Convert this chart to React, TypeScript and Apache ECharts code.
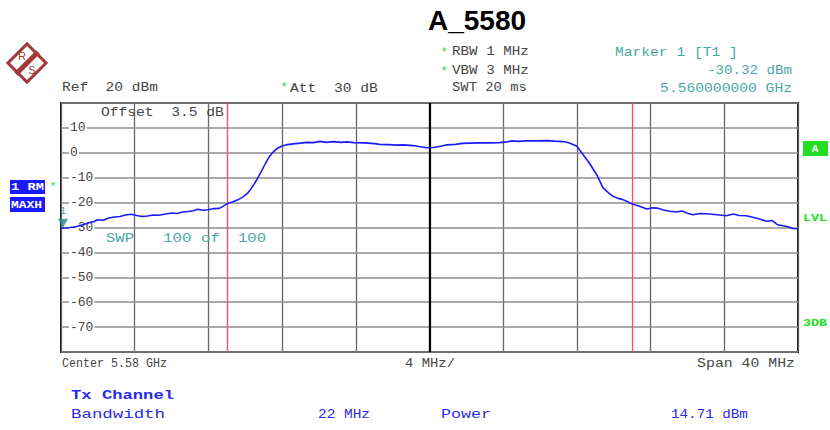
import React, { useEffect, useRef } from "react";
import * as echarts from "echarts";

const freqMHz = [
  5560.0, 5560.4, 5560.8, 5561.2, 5561.5, 5561.8, 5562.0, 5562.3, 5562.6, 5562.9,
  5563.2, 5563.5, 5563.8, 5564.1, 5564.4, 5564.7, 5565.0, 5565.3, 5565.6, 5566.0,
  5566.3, 5566.6, 5566.9, 5567.2, 5567.4, 5567.7, 5568.0, 5568.3, 5568.6, 5568.9,
  5569.1, 5569.3, 5569.6, 5569.9, 5570.1, 5570.3, 5570.5, 5570.7, 5570.9, 5571.1,
  5571.3, 5571.5, 5571.7, 5572.0, 5572.3, 5572.6, 5573.0, 5573.35, 5573.7, 5574.05,
  5574.4, 5574.8, 5575.2, 5575.5, 5575.9, 5576.5, 5577.0, 5577.3, 5577.8, 5578.2,
  5578.6, 5579.1, 5579.5, 5579.85, 5580.2, 5580.6, 5580.95, 5581.4, 5581.8, 5582.2,
  5582.7, 5583.2, 5583.8, 5584.2, 5584.5, 5584.8, 5585.2, 5585.8, 5586.4, 5586.8,
  5587.25, 5587.6, 5588.0, 5588.3, 5588.7, 5589.1, 5589.4, 5589.7, 5589.96, 5590.2,
  5590.5, 5590.8, 5591.0, 5591.4, 5591.8, 5592.1, 5592.35, 5592.7, 5593.05, 5593.4,
  5593.7, 5594.0, 5594.3, 5594.7, 5595.2, 5595.6, 5596.1, 5596.5, 5596.8, 5597.2,
  5597.6, 5597.9, 5598.3, 5598.6, 5598.9, 5599.2, 5599.5, 5599.7, 5600.0,
];
const levelDbm = [
  -30.3, -30.1, -29.7, -28.9, -28.1, -27.6, -26.9, -27.1, -26.2, -25.8,
  -25.6, -25.0, -24.7, -25.2, -25.6, -25.4, -25.0, -25.1, -24.7, -24.2,
  -24.4, -23.8, -23.6, -23.3, -22.7, -23.1, -22.9, -22.4, -22.3, -21.0,
  -20.2, -19.8, -18.9, -17.6, -16.4, -14.6, -12.4, -9.8, -7.1, -4.2,
  -1.6, 0.2, 1.6, 2.7, 3.3, 3.6, 3.9, 4.2, 4.1, 4.6,
  4.2, 4.5, 4.2, 4.4, 4.1, 4.0, 3.7, 3.4, 3.3, 3.1,
  3.2, 2.9, 2.4, 2.0, 2.1, 2.6, 3.2, 3.4, 3.8, 3.9,
  4.0, 4.0, 4.1, 4.4, 4.8, 4.6, 4.8, 4.8, 4.9, 4.7,
  4.5, 3.9, 2.6, -0.4, -4.4, -9.1, -13.9, -16.0, -17.5, -18.2,
  -18.8, -19.8, -20.6, -21.5, -22.6, -22.1, -22.2, -23.0, -23.5, -23.8,
  -23.4, -24.3, -24.9, -24.4, -24.6, -24.9, -25.3, -24.6, -25.2, -25.3,
  -26.0, -26.6, -27.5, -27.2, -28.9, -29.3, -29.8, -30.4, -30.5,
];

const yTicks = [10, 0, -10, -20, -30, -40, -50, -60, -70];
const channelLinesMHz = [5569, 5591];
const centerMHz = 5580;
const marker = { freq: 5560, level: -30.32 };

const MONO = '"Liberation Mono", "DejaVu Sans Mono", monospace';

// text helper; w = desired rendered width (px), stretched horizontally via scaleX
function txt(
  text: string,
  x: number,
  y: number,
  size: number,
  fill: string,
  w: number = 0,
  align: string = "left",
  weight: string = "normal",
  family: string = MONO
) {
  const natural = text.length * 0.6 * size;
  const sx = w > 0 ? w / natural : 1;
  return {
    type: "text",
    x,
    y,
    scaleX: sx,
    z: 100,
    style: {
      text,
      x: 0,
      y: 0,
      fill,
      fontSize: size,
      fontFamily: family,
      fontWeight: weight,
      align,
      textAlign: align,
      verticalAlign: "middle",
      textVerticalAlign: "middle",
    },
  };
}

export default function App() {
  const ref = useRef<HTMLDivElement>(null);

  useEffect(() => {
    if (!ref.current) return;
    const chart = echarts.init(ref.current, undefined, { renderer: "svg" });
    const data = freqMHz.map((f, i) => [f, levelDbm[i]]);

    const gray = "#454545";
    const teal = "#4aa6a6";
    const blue = "#2a2aee";
    const green = "#22dd22";
    const SANS = '"Liberation Sans", Arial, sans-serif';

    const graphic: any[] = [
      txt("A_5580", 477, 20, 28, "#000", 0, "center", "bold", SANS),
      // R&S logo
      {
        type: "rect",
        x: 27,
        y: 63,
        rotation: Math.PI / 4,
        shape: { x: -13.5, y: -13.5, width: 27, height: 27 },
        style: { fill: "#fff", stroke: "#a23a3a", lineWidth: 3 },
        z: 100,
      },
      {
        type: "line",
        shape: { x1: 16, y1: 74, x2: 38, y2: 52 },
        style: { stroke: "#a23a3a", lineWidth: 5 },
        z: 101,
      },
      txt("R", 22, 56, 11, "#a23a3a", 0, "center", "normal", SANS),
      txt("S", 32, 70, 11, "#a23a3a", 0, "center", "normal", SANS),
      // header
      txt("Ref  20 dBm", 62, 88, 13, gray, 96),
      txt("*", 284, 88, 12, green, 0, "center"),
      txt("Att  30 dB", 290, 88, 13, gray, 88),
      txt("*", 444, 53, 12, green, 0, "center"),
      txt("RBW 1 MHz", 452, 52, 13, gray, 77),
      txt("*", 444, 72, 12, green, 0, "center"),
      txt("VBW 3 MHz", 452, 71, 13, gray, 77),
      txt("SWT 20 ms", 452, 88, 13, gray, 75),
      txt("Marker 1 [T1 ]", 615, 52, 13, teal, 123),
      txt("-30.32 dBm", 792, 71, 13, teal, 85, "right"),
      txt("5.560000000 GHz", 792, 88, 13, teal, 132, "right"),
      // in-plot
      txt("Offset  3.5 dB", 101, 112, 13, gray, 123),
      txt("SWP", 106, 238, 13, teal, 28),
      txt("100 of", 163, 238, 13, teal, 57),
      txt("100", 238, 238, 13, teal, 28),
      // left boxes
      {
        type: "rect",
        shape: { x: 10, y: 180, width: 35, height: 14 },
        style: { fill: "#1a1aff" },
        z: 100,
      },
      txt("1 RM", 11, 187, 11, "#fff", 33, "left", "bold"),
      txt("*", 53, 187, 11, green, 0, "center"),
      {
        type: "rect",
        shape: { x: 10, y: 197, width: 35, height: 15 },
        style: { fill: "#1a1aff" },
        z: 100,
      },
      txt("MAXH", 11, 205, 10, "#fff", 31, "left", "bold"),
      // right side labels
      {
        type: "rect",
        shape: { x: 803, y: 141, width: 25, height: 15 },
        style: { fill: green },
        z: 100,
      },
      txt("A", 815, 148.5, 11, "#fff", 0, "center", "bold"),
      txt("LVL", 803, 218, 11, green, 24, "left", "bold"),
      txt("3DB", 803, 323, 11, green, 24, "left", "bold"),
      // bottom
      txt("Center 5.58 GHz", 62, 364, 12, gray, 105),
      txt("4 MHz/", 405, 364, 12, gray, 50),
      txt("Span 40 MHz", 795, 364, 12, gray, 98, "right"),
      txt("Tx Channel", 71, 396, 13, blue, 103, "left", "bold"),
      txt("Bandwidth", 71, 415, 13, blue, 94),
      txt("22 MHz", 318, 415, 13, blue, 52),
      txt("Power", 441, 415, 13, blue, 50),
      txt("14.71 dBm", 671, 415, 13, blue, 77),
    ];

    chart.setOption({
      animation: false,
      backgroundColor: "#fff",
      grid: {
        left: 61,
        right: 32,
        top: 103,
        bottom: 78,
        show: true,
        borderColor: "#111",
        borderWidth: 2,
        backgroundColor: "transparent",
      },
      xAxis: {
        type: "value",
        min: 5560,
        max: 5600,
        interval: 4,
        axisLine: { show: false },
        axisTick: { show: false },
        axisLabel: { show: false },
        splitLine: { show: true, lineStyle: { color: "#666", width: 1.3 } },
      },
      yAxis: {
        type: "value",
        min: -80,
        max: 20,
        interval: 10,
        axisLine: { show: false },
        axisTick: { show: false },
        axisLabel: {
          inside: true,
          margin: 8,
          align: "left",
          color: "#444",
          fontFamily: MONO,
          fontSize: 13,
          backgroundColor: "#fff",
          padding: [0, 1],
          formatter: (v: number) => (yTicks.indexOf(v) >= 0 ? String(v) : ""),
        },
        splitLine: { show: true, lineStyle: { color: "#8c8c8c", width: 1.6 } },
        z: 3,
      },
      graphic,
      series: [
        {
          type: "line",
          data,
          showSymbol: false,
          symbol: "none",
          lineStyle: { color: "#1a1aff", width: 1.6 },
          z: 5,
          markLine: {
            silent: true,
            symbol: ["none", "none"],
            label: { show: false },
            data: [
              ...channelLinesMHz.map((f) => ({
                xAxis: f,
                lineStyle: { color: "#ff5050", width: 1.3, type: "solid" },
              })),
              { xAxis: centerMHz, lineStyle: { color: "#000", width: 2.2, type: "solid" } },
            ],
          },
        },
        {
          type: "scatter",
          data: [[marker.freq, marker.level]],
          symbol: "triangle",
          symbolRotate: 180,
          symbolSize: [10, 9],
          symbolOffset: [2, -5],
          itemStyle: { color: "#1d8c8c" },
          clip: false,
          z: 6,
          label: {
            show: true,
            position: "top",
            formatter: "1",
            color: "#1d8c8c",
            fontFamily: MONO,
            fontSize: 11,
            distance: 2,
          },
        },
      ],
    });

    return () => chart.dispose();
  }, []);

  return (
    <div
      ref={ref}
      style={{ position: "fixed", left: 0, top: 0, width: 830, height: 430 }}
    />
  );
}
